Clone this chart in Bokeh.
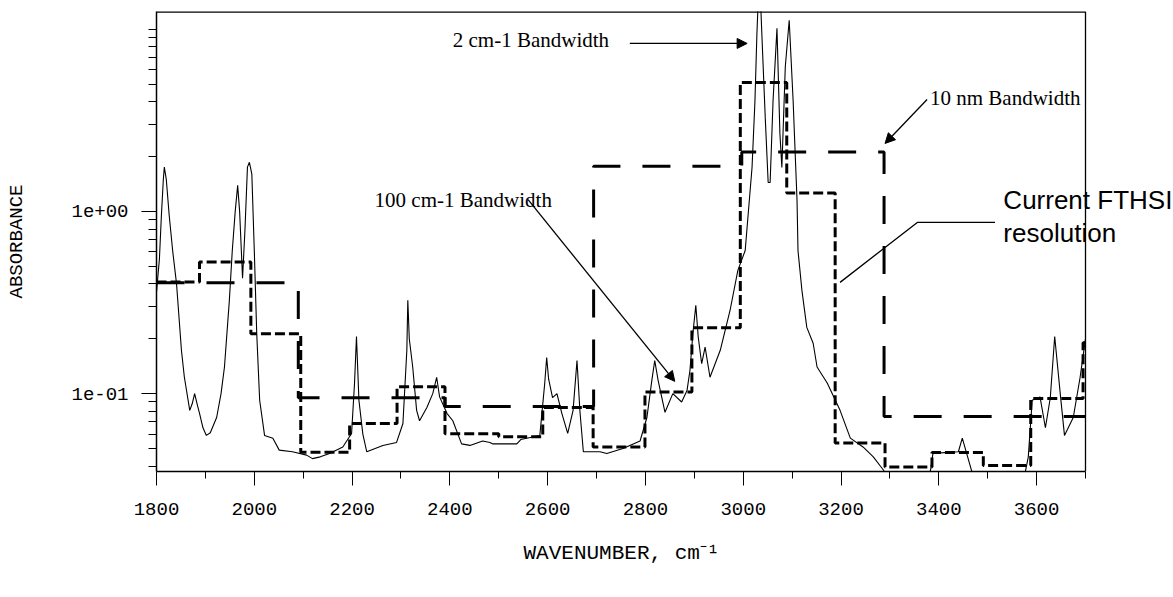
from bokeh.plotting import figure
from bokeh.models import Range1d, FixedTicker, Label, Arrow, NormalHead, Title
from bokeh.embed import file_html
from bokeh.resources import INLINE

# ---------------- data ----------------
# 2 cm-1 bandwidth spectrum (thin solid line)
spec_x = [1800, 1806, 1810, 1814, 1816, 1820, 1826, 1833, 1841, 1851, 1857, 1868, 1873, 1878,
          1883, 1888, 1895, 1902, 1910, 1923, 1932, 1939, 1949, 1955, 1961, 1966, 1970, 1976,
          1981, 1986, 1990, 1995, 2000, 2005, 2011, 2021, 2038, 2051, 2078, 2107, 2119, 2135,
          2154, 2181, 2199, 2205, 2209, 2214, 2222, 2230, 2263, 2291, 2304, 2312, 2314, 2317,
          2324, 2332, 2338, 2353, 2365, 2373, 2379, 2394, 2406, 2424, 2441, 2467, 2482, 2488,
          2537, 2545, 2584, 2594, 2598, 2602, 2610, 2619, 2629, 2641, 2652, 2657, 2660, 2666,
          2673, 2707, 2721, 2754, 2789, 2803, 2813, 2819, 2826, 2840, 2856, 2874, 2885, 2891,
          2897, 2903, 2908, 2915, 2922, 2932, 2953, 2973, 2989, 3004, 3018, 3024, 3028, 3030,
          3036, 3038, 3045, 3051, 3055, 3061, 3069, 3075, 3079, 3086, 3094, 3102, 3110, 3112,
          3120, 3130, 3143, 3151, 3172, 3198, 3219, 3245, 3266, 3287, 3300, 3370, 3383, 3388,
          3440, 3448, 3468, 3480, 3570, 3583, 3591, 3607, 3618, 3628, 3637, 3649, 3657, 3675,
          3689, 3700]
spec_y = [0.36, 0.55, 0.95, 1.5, 1.75, 1.5, 0.95, 0.61, 0.40, 0.173, 0.123, 0.081, 0.088, 0.10,
          0.088, 0.078, 0.065, 0.059, 0.061, 0.074, 0.10, 0.14, 0.325, 0.61, 1.0, 1.39, 1.0, 0.43,
          0.8, 1.75, 1.86, 1.6, 0.61, 0.214, 0.092, 0.059, 0.057, 0.049, 0.048, 0.046, 0.044, 0.045,
          0.047, 0.051, 0.0605, 0.114, 0.206, 0.092, 0.06, 0.048, 0.052, 0.054, 0.0686, 0.173, 0.325, 0.2,
          0.14, 0.081, 0.071, 0.084, 0.10, 0.123, 0.096, 0.078, 0.071, 0.053, 0.052, 0.055, 0.054, 0.053,
          0.053, 0.056, 0.059, 0.114, 0.158, 0.12, 0.095, 0.10, 0.078, 0.0605, 0.081, 0.12, 0.152, 0.08,
          0.048, 0.048, 0.047, 0.050, 0.055, 0.074, 0.118, 0.152, 0.118, 0.079, 0.10, 0.090, 0.104, 0.134,
          0.214, 0.305, 0.204, 0.146, 0.18, 0.123, 0.173, 0.286, 0.475, 0.61, 1.74, 4.06, 9.5, 13.0,
          13.0, 9.5, 3.28, 1.44, 1.44, 4.06, 10.1, 2.68, 1.74, 6.2, 11.2, 4.06, 1.15, 0.61,
          0.369, 0.231, 0.189, 0.14, 0.114, 0.081, 0.057, 0.051, 0.045, 0.038, 0.033, 0.030, 0.038, 0.047,
          0.048, 0.057, 0.037, 0.030, 0.030, 0.045, 0.092, 0.096, 0.065, 0.095, 0.206, 0.096, 0.059, 0.074,
          0.123, 0.20]

# 100 cm-1 bandwidth (short thick dashes): bin edges and levels
short_edges = [1800, 1888, 1993, 2095, 2195, 2292, 2390, 2500, 2590, 2693, 2799, 2895, 2994,
               3089, 3188, 3290, 3386, 3491, 3588, 3695, 3700]
short_levels = [0.41, 0.527, 0.213, 0.0477, 0.0685, 0.109, 0.0603, 0.058, 0.084, 0.051, 0.102,
                0.23, 5.1, 1.26, 0.0536, 0.0396, 0.0475, 0.0404, 0.094, 0.19]

# 10 nm bandwidth (long thick dashes)
long_edges = [1800, 2090, 2390, 2694, 2997, 3288, 3700]
long_levels = [0.406, 0.095, 0.085, 1.77, 2.12, 0.075]

# axis ticks
x_start, x_end = 1800, 3700
y_low, y_high = 0.0374, 12.5
x_major = [1800, 2000, 2200, 2400, 2600, 2800, 3000, 3200, 3400, 3600]
x_minor = [1900, 2100, 2300, 2500, 2700, 2900, 3100, 3300, 3500, 3700]
y_major = [0.1, 1.0]
y_minor = [0.04, 0.05, 0.06, 0.07, 0.08, 0.09, 0.2, 0.3, 0.4, 0.5, 0.6, 0.7, 0.8, 0.9,
           2, 3, 4, 5, 6, 7, 8, 9, 10]

# annotation anchor points (data coordinates)
ann_2cm = (2406, 8.67)
arrow_2cm = (2768, 8.35, 3008, 8.35)
ann_100cm = (2246, 1.149)
arrow_100cm = (2560, 1.16, 2860, 0.1168)
ann_10nm = (3382, 4.17)
arrow_10nm = (3376, 4.11, 3290, 2.36)
ann_fthsi = (3532, 1.149)
ann_res = (3532, 0.757)
fthsi_leader_x = [3198, 3356, 3515]
fthsi_leader_y = [0.408, 0.870, 0.870]

# ---------------- layout ----------------
W, H = 1173, 597
left, right, top, bottom = 156, 0, 11, 126
plot_px = 929  # pixel width of the 1800..3700 box
view_end = x_start + (W - left - right) * (x_end - x_start) / plot_px

p = figure(width=W, height=H, y_axis_type="log",
           x_range=Range1d(x_start, view_end), y_range=Range1d(y_low, y_high),
           output_backend="svg", toolbar_location=None,
           min_border_left=left, min_border_right=right, min_border_top=top,
           min_border_bottom=bottom)
p.background_fill_color = "white"
p.border_fill_color = "white"
p.outline_line_color = None
p.grid.visible = False

mono = "Liberation Mono"

# x axis
xa = p.xaxis[0]
xa.ticker = FixedTicker(ticks=x_major, minor_ticks=x_minor)
xa.bounds = (x_start, x_end)
xa.major_label_text_font = mono
xa.major_label_text_font_size = "19px"
xa.major_label_text_color = "black"
xa.major_label_standoff = 17
xa.major_tick_out = 14
xa.major_tick_in = 0
xa.minor_tick_out = 7
xa.minor_tick_in = 0
xa.axis_line_color = "black"
xa.major_tick_line_color = "black"
xa.minor_tick_line_color = "black"
xa.axis_line_width = 1.5

# x axis title, centred under the 1800..3700 box
p.add_layout(Title(text="WAVENUMBER, cm\u207b\u00b9", align="left", offset=367,
                   text_font=mono, text_font_size="21px", text_font_style="normal",
                   text_color="black", standoff=45), "below")

# y axis
ya = p.yaxis[0]
ya.ticker = FixedTicker(ticks=y_major, minor_ticks=y_minor)
ya.major_label_overrides = {0.1: "1e-01", 1: "1e+00"}
ya.axis_label = "ABSORBANCE"
ya.axis_label_text_font = mono
ya.axis_label_text_font_size = "19px"
ya.axis_label_text_font_style = "normal"
ya.axis_label_text_color = "black"
ya.axis_label_standoff = 40
ya.major_label_text_font = mono
ya.major_label_text_font_size = "19px"
ya.major_label_text_color = "black"
ya.major_label_standoff = 13
ya.major_tick_out = 15
ya.major_tick_in = 0
ya.minor_tick_out = 8
ya.minor_tick_in = 0
ya.axis_line_color = "black"
ya.major_tick_line_color = "black"
ya.minor_tick_line_color = "black"
ya.axis_line_width = 1.5

# box: top and right edges
p.line([x_start, x_end], [y_high, y_high], line_color="black", line_width=2.6)
p.line([x_end, x_end], [y_low, y_high], line_color="black", line_width=1.3)

# series
p.line(spec_x, spec_y, line_color="black", line_width=1.1)
p.step(short_edges, short_levels + [short_levels[-1]], mode="after",
       line_color="black", line_width=3, line_dash="10 4")
p.step(long_edges, long_levels + [long_levels[-1]], mode="after",
       line_color="black", line_width=3, line_dash="28 22")

# annotations
serif = "Liberation Serif"
for (xx, yy), txt in [(ann_2cm, "2 cm-1 Bandwidth"), (ann_100cm, "100 cm-1 Bandwidth"),
                      (ann_10nm, "10 nm Bandwidth")]:
    p.add_layout(Label(x=xx, y=yy, text=txt, text_font=serif, text_font_size="21px",
                       text_color="black", text_baseline="middle", text_align="left"))
for (xx, yy), txt in [(ann_fthsi, "Current FTHSI"), (ann_res, "resolution")]:
    p.add_layout(Label(x=xx, y=yy, text=txt, text_font="Liberation Sans", text_font_size="26px",
                       text_color="black", text_baseline="middle", text_align="left"))

for (x0, y0, x1, y1) in [arrow_2cm, arrow_100cm, arrow_10nm]:
    p.add_layout(Arrow(end=NormalHead(size=10, fill_color="black", line_color="black"),
                       x_start=x0, y_start=y0, x_end=x1, y_end=y1,
                       line_color="black", line_width=1.3))

p.line(fthsi_leader_x, fthsi_leader_y, line_color="black", line_width=1.3)

open("out.html", "w").write(file_html(p, INLINE))
